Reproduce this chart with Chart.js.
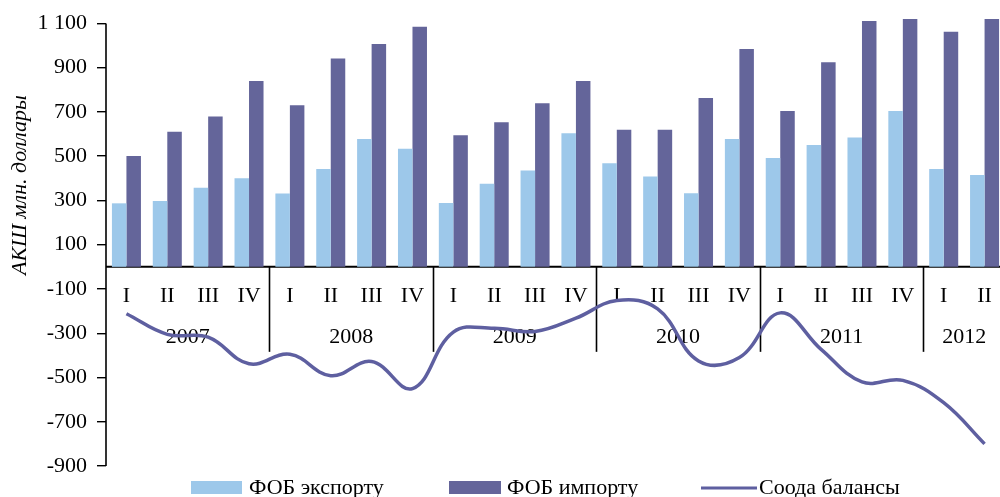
<!DOCTYPE html>
<html><head><meta charset="utf-8">
<script src="https://cdn.jsdelivr.net/npm/chart.js@4.4.0/dist/chart.umd.min.js"></script>
<style>
html,body{margin:0;padding:0;overflow:hidden;background:#fff;width:1000px;height:497px}
#wrap{width:1005px;height:497px;position:relative}
</style>
</head><body>
<div id="wrap"><canvas id="c" width="1005" height="497"></canvas></div>
<script>
const categories = ['I','II','III','IV','I','II','III','IV','I','II','III','IV','I','II','III','IV','I','II','III','IV','I','II'];
const years = ['2007','2008','2009','2010','2011','2012'];
const quartersPerYear = [4,4,4,4,4,2];
const exportFOB = [287,298,357,400, 331,442,578,534, 289,375,435,604, 468,408,333,578, 492,551,585,704, 442,415];
const importFOB = [501,611,679,840, 730,942,1007,1085, 595,653,739,840, 620,620,763,984, 704,924,1111,1215, 1062,1205];
const tradeBalance = [-212,-305,-318,-438, -395,-492,-428,-550, -295,-278,-292,-232, -152,-190,-425,-410, -208,-373,-520,-513, -614,-800];
const yTicks = [-900,-700,-500,-300,-100,100,300,500,700,900,1100];
const seriesLabels = ['ФОБ экспорту','ФОБ импорту','Соода балансы'];
const yTitle = 'АКШ млн. доллары';

const COL_EXP = '#9DC8EA', COL_IMP = '#64659A', COL_BAL = '#5E5FA0';
const FONT = '"Liberation Serif", "Times New Roman", serif';

function fmt(v){
  const a = Math.abs(v);
  let s = a >= 1000 ? Math.floor(a/1000) + ' ' + String(a%1000).padStart(3,'0') : String(a);
  return (v < 0 ? '-' : '') + s;
}

const decor = {
  id:'decor',
  beforeDatasetsDraw(chart){
    const {ctx, chartArea:ca, scales:{x,y}} = chart;
    ctx.save();
    const y0 = y.getPixelForValue(0);
    ctx.strokeStyle = '#000'; ctx.lineWidth = 1.6;
    ctx.beginPath(); ctx.moveTo(ca.left, y.getPixelForValue(1100)); ctx.lineTo(ca.left, y.getPixelForValue(-900)); ctx.stroke();
    ctx.lineWidth = 2;
    ctx.beginPath(); ctx.moveTo(ca.left, y0); ctx.lineTo(ca.right, y0); ctx.stroke();
    ctx.fillStyle = '#000'; ctx.textAlign = 'center'; ctx.textBaseline = 'middle';
    ctx.font = '22px ' + FONT;
    categories.forEach((q,i)=>{ ctx.fillText(q, x.getPixelForValue(i), y0 + 29); });
    let idx = 0;
    const half = (x.getPixelForValue(1) - x.getPixelForValue(0)) / 2;
    ctx.lineWidth = 1.6;
    years.forEach((yr,k)=>{
      const n = quartersPerYear[k];
      const xs = x.getPixelForValue(idx) - half;
      const xe = x.getPixelForValue(idx + n - 1) + half;
      ctx.fillText(yr, (xs + xe)/2, y0 + 70);
      if (k < years.length - 1) {
        ctx.beginPath(); ctx.moveTo(Math.round(xe)+0.5, y0); ctx.lineTo(Math.round(xe)+0.5, y0 + 85); ctx.stroke();
      }
      idx += n;
    });
    ctx.restore();
  },
  afterDraw(chart){
    const {ctx} = chart;
    ctx.save();
    ctx.translate(20, 185); ctx.rotate(-Math.PI/2);
    ctx.font = 'italic 22px ' + FONT; ctx.fillStyle = '#000';
    ctx.textAlign = 'center'; ctx.textBaseline = 'middle';
    ctx.fillText(yTitle, 0, 0);
    ctx.restore();
    ctx.save();
    ctx.font = '22px ' + FONT; ctx.textBaseline = 'middle'; ctx.textAlign = 'left';
    const ly = 488;
    ctx.fillStyle = COL_EXP; ctx.fillRect(191, ly-7, 51, 13);
    ctx.fillStyle = '#000'; ctx.fillText(seriesLabels[0], 249, ly);
    ctx.fillStyle = COL_IMP; ctx.fillRect(449, ly-7, 52, 13);
    ctx.fillStyle = '#000'; ctx.fillText(seriesLabels[1], 507, ly);
    ctx.strokeStyle = COL_BAL; ctx.lineWidth = 3;
    ctx.beginPath(); ctx.moveTo(701, ly); ctx.lineTo(757, ly); ctx.stroke();
    ctx.fillStyle = '#000'; ctx.fillText(seriesLabels[2], 759, ly);
    ctx.restore();
  }
};

new Chart(document.getElementById('c'), {
  type:'bar',
  data:{
    labels: categories,
    datasets:[
      {type:'bar', label:seriesLabels[0], data:exportFOB, backgroundColor:COL_EXP, categoryPercentage:0.71, barPercentage:1, order:2},
      {type:'bar', label:seriesLabels[1], data:importFOB, backgroundColor:COL_IMP, categoryPercentage:0.71, barPercentage:1, order:2},
      {type:'line', label:seriesLabels[2], data:tradeBalance, borderColor:COL_BAL, borderWidth:3.5, pointRadius:0, tension:0.4, fill:false, order:1}
    ]
  },
  options:{
    responsive:false, animation:false,
    layout:{padding:{left:0,right:0,top:19,bottom:31}},
    plugins:{legend:{display:false}, tooltip:{enabled:false}},
    scales:{
      x:{display:false, offset:true},
      y:{
        min:-900, max:1120,
        afterBuildTicks: s => { s.ticks = yTicks.map(v => ({value:v})); },
        afterFit: s => { s.width = 106; s.paddingTop = 0; s.paddingBottom = 0; },
        grid:{drawOnChartArea:false, drawTicks:true, tickLength:9, color:'#000', lineWidth:1.4},
        border:{display:false},
        ticks:{color:'#000', font:{family:FONT, size:22}, padding:10, callback: v => fmt(v)}
      }
    }
  },
  plugins:[decor]
});
</script>
</body></html>
